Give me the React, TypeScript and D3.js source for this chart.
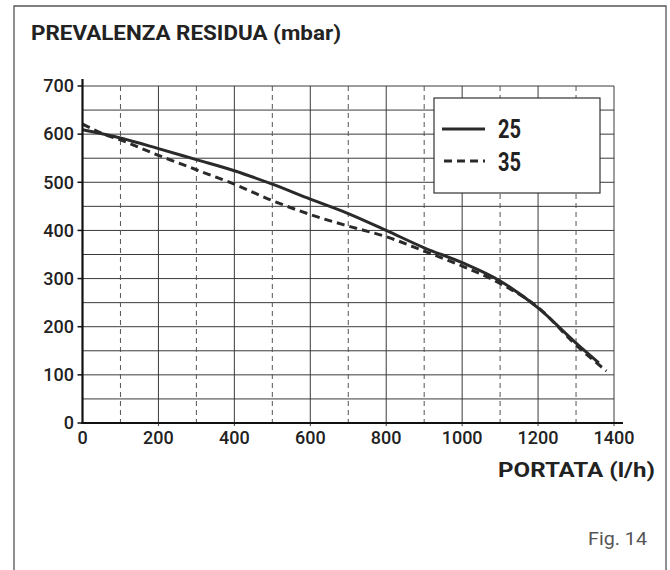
import React from "react";
import * as d3 from "d3";

const flow25 = [0, 100, 200, 300, 400, 500, 600, 700, 800, 900, 1000, 1100, 1200, 1300, 1360];
const head25 = [609, 592, 570, 547, 524, 496, 465, 435, 400, 364, 333, 295, 239, 166, 125];
const flow35 = [0, 50, 100, 200, 300, 400, 500, 600, 700, 800, 900, 1000, 1100, 1200, 1300, 1380];
const head35 = [621, 602, 588, 556, 526, 496, 462, 433, 409, 387, 357, 326, 290, 240, 162, 108];
const xTicks = [0, 200, 400, 600, 800, 1000, 1200, 1400];
const yTicks = [0, 100, 200, 300, 400, 500, 600, 700];
const xMinor = [100, 300, 500, 700, 900, 1100, 1300];
const yMinor = [50, 150, 250, 350, 450, 550, 650];
const seriesLabels = ["25", "35"];

export default function App() {
  const x = d3.scaleLinear().domain([0, 1400]).range([82.5, 614]);
  const y = d3.scaleLinear().domain([0, 700]).range([423, 86]);
  const line = d3
    .line<[number, number]>()
    .x((d) => x(d[0]))
    .y((d) => y(d[1]))
    .curve(d3.curveMonotoneX);
  const d25 = line(flow25.map((f, i) => [f, head25[i]] as [number, number])) || "";
  const d35 = line(flow35.map((f, i) => [f, head35[i]] as [number, number])) || "";
  const font = "Roboto, 'DejaVu Sans', sans-serif";
  const gridColor = "#3a3a3a";
  return (
    <svg
      width={670}
      height={570}
      style={{ position: "absolute", left: 0, top: 0, background: "#fff" }}
    >
      <rect x={0} y={0} width={670} height={570} fill="#fff" />
      {/* frame */}
      <path d="M14,570 L14,6 L666,6 L666,570" fill="none" stroke="#555" strokeWidth={1.3} />
      <text x={31} y={40} fontFamily={font} fontWeight={700} fontSize={21} fill="#222" textLength={310} lengthAdjust="spacingAndGlyphs">
        PREVALENZA RESIDUA (mbar)
      </text>
      {/* horizontal grid */}
      {yTicks.concat(yMinor).filter((v) => v > 0).map((v) => (
        <line key={"h" + v} x1={x(0)} x2={x(1400)} y1={y(v)} y2={y(v)} stroke={gridColor} strokeWidth={1} />
      ))}
      {/* vertical grid */}
      {xTicks.filter((v) => v > 0).map((v) => (
        <line key={"v" + v} x1={x(v)} x2={x(v)} y1={y(700)} y2={y(0) + 3} stroke={gridColor} strokeWidth={1} />
      ))}
      {xMinor.map((v) => (
        <line key={"vm" + v} x1={x(v)} x2={x(v)} y1={y(700)} y2={y(0)} stroke="#555" strokeWidth={1} strokeDasharray="5,4" />
      ))}
      {/* legend box */}
      <rect x={434} y={98} width={166} height={95} fill="#fff" stroke="#333" strokeWidth={1.2} />
      <line x1={442} x2={485} y1={129} y2={129} stroke="#2a2a2a" strokeWidth={3} />
      <line x1={444} x2={485} y1={161} y2={161} stroke="#2a2a2a" strokeWidth={3} strokeDasharray="8,5" />
      <text x={498} y={138} fontFamily={font} fontWeight={700} fontSize={25} fill="#222" textLength={23} lengthAdjust="spacingAndGlyphs">
        {seriesLabels[0]}
      </text>
      <text x={498} y={171} fontFamily={font} fontWeight={700} fontSize={25} fill="#222" textLength={23} lengthAdjust="spacingAndGlyphs">
        {seriesLabels[1]}
      </text>
      {/* curves */}
      <path d={d35} fill="none" stroke="#2a2a2a" strokeWidth={3} strokeDasharray="8,5" />
      <path d={d25} fill="none" stroke="#2a2a2a" strokeWidth={3} />
      {/* axes */}
      <line x1={x(0)} x2={x(0)} y1={79} y2={y(0) + 1} stroke="#111" strokeWidth={2.2} />
      <line x1={x(0) - 1} x2={623} y1={y(0)} y2={y(0)} stroke="#111" strokeWidth={2.2} />
      {yTicks.map((v) => (
        <g key={"yt" + v}>
          <line x1={x(0) - 5} x2={x(0)} y1={y(v)} y2={y(v)} stroke="#111" strokeWidth={1.5} />
          <text x={74} y={y(v)} dy="0.35em" textAnchor="end" fontFamily={font} fontWeight={500} fontSize={18} fill="#222">
            {v}
          </text>
        </g>
      ))}
      {xTicks.map((v) => (
        <text key={"xt" + v} x={x(v)} y={444} textAnchor="middle" fontFamily={font} fontWeight={500} fontSize={18} fill="#222">
          {v}
        </text>
      ))}
      <text x={655} y={477} textAnchor="end" fontFamily={font} fontWeight={700} fontSize={21} fill="#222" textLength={157} lengthAdjust="spacingAndGlyphs">
        PORTATA (l/h)
      </text>
      <text x={647} y={545} textAnchor="end" fontFamily={font} fontSize={18} fill="#555" textLength={59} lengthAdjust="spacingAndGlyphs">
        Fig. 14
      </text>
    </svg>
  );
}
